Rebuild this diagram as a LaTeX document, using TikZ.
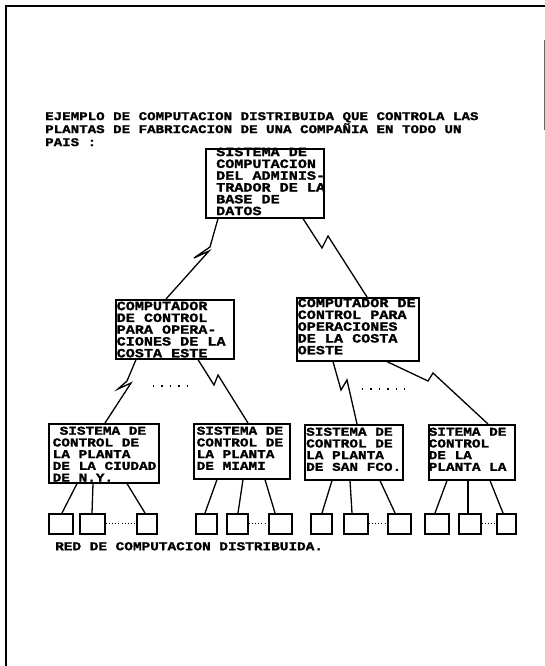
\documentclass[tikz,border=0pt]{standalone}
\usepackage{fontspec}
\newfontfamily\dm{Liberation Mono}[FakeStretch=1.2, BoldFeatures={FakeBold=1.5}]
\lineskiplimit=-100pt
\begin{document}
\begin{tikzpicture}[x=1pt,y=-1pt,
  box/.style={draw, line width=1.6pt, inner sep=0pt, anchor=north west},
  lbl/.style={inner sep=0pt, anchor=north west, align=left},
  bigf/.style={font=\dm\bfseries\fontsize{12.6}{11.8}\selectfont},
  smf/.style={font=\dm\bfseries\fontsize{12}{11.7}\selectfont},
  ttlf/.style={font=\dm\bfseries\fontsize{11.8}{13}\selectfont},
  conn/.style={line width=1.3pt, line join=miter},
  leaf/.style={draw, line width=1.6pt, inner sep=0pt, anchor=north west, minimum height=20pt},
  wire/.style={line width=1.3pt},
  dotsl/.style={line width=1.4pt, dash pattern=on 1.4pt off 7pt},
  fine/.style={line width=1.1pt, dash pattern=on 1pt off 2.2pt}]
\useasboundingbox (0,0) rectangle (545,666);
\fill[white] (0,0) rectangle (545,666);
% frame
\draw[line width=2.5pt] (6,666) -- (6,6) -- (545,6);
\draw[line width=0.8pt, black!60] (544,40) -- (544,130);
% title
\node[lbl, ttlf] (title) at (45,112) {EJEMPLO DE COMPUTACION DISTRIBUIDA QUE CONTROLA LAS\\PLANTAS DE FABRICACION DE UNA COMPAÑIA EN TODO UN\\PAIS :};
% boxes
\node[box, minimum width=118pt, minimum height=69pt] (top) at (205,148) {};
\node[box, minimum width=118pt, minimum height=59pt] (ml) at (115,299) {};
\node[box, minimum width=122pt, minimum height=63pt] (mr) at (296,297) {};
\node[box, minimum width=110pt, minimum height=59pt] (ny) at (48,423) {};
\node[box, minimum width=96pt, minimum height=55pt] (mi) at (193,423) {};
\node[box, minimum width=98pt, minimum height=55pt] (sf) at (304,424) {};
\node[box, minimum width=86pt, minimum height=55pt] (la) at (428,424) {};
% box texts
\node[lbl, bigf] (ttop) at (216,147.5) {SISTEMA DE\\COMPUTACION\\DEL ADMINIS-\\TRADOR DE LA\\BASE DE\\DATOS};
\node[lbl, bigf] (tml) at (116.5,301.5) {COMPUTADOR\\DE CONTROL\\PARA OPERA-\\CIONES DE LA\\COSTA ESTE};
\node[lbl, bigf] (tmr) at (297.5,298.5) {COMPUTADOR DE\\CONTROL PARA\\OPERACIONES\\DE LA COSTA\\OESTE};
\node[lbl, smf] (tny) at (52.5,426.5) {\hspace*{7pt}SISTEMA DE\\CONTROL DE\\LA PLANTA\\DE LA CIUDAD\\DE N.Y.};
\node[lbl, smf] (tmi) at (196.5,426.5) {SISTEMA DE\\CONTROL DE\\LA PLANTA\\DE MIAMI};
\node[lbl, smf] (tsf) at (306,427.5) {SISTEMA DE\\CONTROL DE\\LA PLANTA\\DE SAN FCO.};
\node[lbl, smf] (tla) at (428.5,427.5) {SITEMA DE\\CONTROL\\DE LA\\PLANTA LA};
% lightning connectors
\draw[conn] ([xshift=13pt]top.south west) -- (210,247) -- (194,258) -- (209,251) -- ([xshift=51pt]ml.north west);
\draw[conn] ([xshift=98pt]top.south west) -- (322,248) -- (328,236) -- ([xshift=71pt]mr.north west);
\draw[conn] ([xshift=21pt]ml.south west) -- (127,381) -- (118,389) -- (131,383) -- ([xshift=57pt]ny.north west);
\draw[conn] ([xshift=83pt]ml.south west) -- (214,385) -- (218,375) -- ([xshift=55pt]mi.north west);
\draw[conn] ([xshift=37pt]mr.south west) -- (341,390) -- (347,380) -- ([xshift=53pt]sf.north west);
\draw[conn] ([xshift=91pt]mr.south west) -- (428,381) -- (433,373) -- ([xshift=60pt]la.north west);
% dots between branches
\draw[dotsl] (153,386) -- (192,386);
\draw[dotsl] (362,389) -- (405,389);
% leaves
\node[leaf, minimum width=24pt] (sq1) at (48,513) {};
\node[leaf, minimum width=25pt] (sq2) at (79,513) {};
\node[leaf, minimum width=20pt] (sq3) at (136,513) {};
\node[leaf, minimum width=21pt] (sq4) at (195,513) {};
\node[leaf, minimum width=21pt] (sq5) at (226,513) {};
\node[leaf, minimum width=23pt] (sq6) at (268,513) {};
\node[leaf, minimum width=21pt] (sq7) at (310,513) {};
\node[leaf, minimum width=24pt] (sq8) at (343,513) {};
\node[leaf, minimum width=23pt] (sq9) at (387,513) {};
\node[leaf, minimum width=24pt] (sq10) at (424,513) {};
\node[leaf, minimum width=22pt] (sq11) at (458,513) {};
\node[leaf, minimum width=19pt] (sq12) at (496,513) {};
% leaf wires
\draw[wire] ([xshift=29pt]ny.south west) -- ([xshift=14pt]sq1.north west);
\draw[wire] ([xshift=45pt]ny.south west) -- ([xshift=13pt]sq2.north west);
\draw[wire] ([xshift=79pt]ny.south west) -- ([xshift=9pt]sq3.north west);
\draw[wire] ([xshift=24pt]mi.south west) -- ([xshift=10pt]sq4.north west);
\draw[wire] ([xshift=50pt]mi.south west) -- ([xshift=12pt]sq5.north west);
\draw[wire] ([xshift=72pt]mi.south west) -- ([xshift=7pt]sq6.north west);
\draw[wire] ([xshift=28pt]sf.south west) -- ([xshift=12pt]sq7.north west);
\draw[wire] ([xshift=46pt]sf.south west) -- ([xshift=9pt]sq8.north west);
\draw[wire] ([xshift=76pt]sf.south west) -- ([xshift=8pt]sq9.north west);
\draw[wire] ([xshift=19pt]la.south west) -- ([xshift=11pt]sq10.north west);
\draw[wire] ([xshift=40pt]la.south west) -- ([xshift=10pt]sq11.north west);
\draw[wire] ([xshift=62pt]la.south west) -- ([xshift=7pt]sq12.north west);
% dotted links between leaves
\draw[fine] (sq2.east) -- (sq3.west);
\draw[fine] (sq5.east) -- (sq6.west);
\draw[fine] (sq8.east) -- (sq9.west);
\draw[fine] (sq11.east) -- (sq12.west);
% caption
\node[lbl, font=\dm\bfseries\fontsize{12}{14}\selectfont] (cap) at (55,542) {RED DE COMPUTACION DISTRIBUIDA.};
\end{tikzpicture}
\end{document}
